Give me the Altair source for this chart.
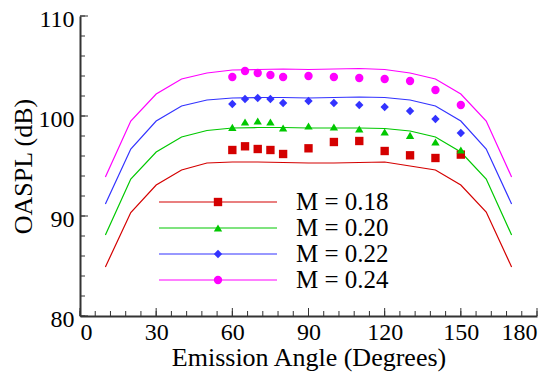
import altair as alt
import pandas as pd

# ---------------- data ----------------
series_labels = ["M = 0.18", "M = 0.20", "M = 0.22", "M = 0.24"]
series_colors = ["#d40000", "#00c800", "#3333ff", "#ff00ff"]
series_shapes = ["square", "triangle-up", "diamond", "circle"]

line_angles = [10, 20, 30, 40, 50, 60, 70, 80, 90, 100, 110, 120, 130, 140, 150, 160, 170]
line_m018 = [84.9, 90.35, 93.1, 94.6, 95.3, 95.4, 95.4, 95.35, 95.3, 95.3, 95.35, 95.4, 95.0, 94.6, 93.1, 90.4, 84.9]
line_m020 = [88.1, 93.7, 96.4, 97.9, 98.55, 98.8, 98.85, 98.85, 98.8, 98.8, 98.8, 98.75, 98.5, 97.9, 96.4, 93.7, 88.1]
line_m022 = [91.2, 96.7, 99.5, 101.0, 101.6, 101.8, 101.85, 101.85, 101.8, 101.85, 101.9, 101.85, 101.6, 101.0, 99.5, 96.7, 91.2]
line_m024 = [93.9, 99.5, 102.2, 103.7, 104.3, 104.6, 104.65, 104.7, 104.65, 104.7, 104.75, 104.65, 104.3, 103.7, 102.2, 99.5, 93.9]

pt_angles = [60, 65, 70, 75, 80, 90, 100, 110, 120, 130, 140, 150]
pt_m018 = [96.6, 96.97, 96.7, 96.6, 96.2, 96.77, 97.4, 97.5, 96.5, 96.07, 95.8, 96.14]
pt_m020 = [98.87, 99.4, 99.5, 99.4, 98.8, 99.0, 98.9, 98.7, 98.4, 98.07, 97.4, 96.6]
pt_m022 = [101.2, 101.7, 101.8, 101.7, 101.3, 101.5, 101.3, 101.1, 100.9, 100.5, 99.7, 98.3]
pt_m024 = [103.9, 104.5, 104.3, 104.1, 103.9, 104.0, 103.9, 103.8, 103.7, 103.5, 102.6, 101.1]

x_major = [0, 30, 60, 90, 120, 150, 180]
x_minor = [a for a in range(0, 181, 6)]
y_major = [80, 90, 100, 110]
y_minor = [v for v in range(80, 111, 2)]

# ---------------- tables ----------------
line_rows = []
for lab, vals in zip(series_labels, [line_m018, line_m020, line_m022, line_m024]):
    for a, v in zip(line_angles, vals):
        line_rows.append({"M": lab, "angle": a, "oaspl": v})
line_df = pd.DataFrame(line_rows)

pt_rows = []
for lab, vals in zip(series_labels, [pt_m018, pt_m020, pt_m022, pt_m024]):
    for a, v in zip(pt_angles, vals):
        pt_rows.append({"M": lab, "angle": a, "oaspl": v})
pt_df = pd.DataFrame(pt_rows)

W, H = 457, 300
FONT = "Liberation Serif, Times New Roman, serif"

# legend layout (pixel positions inside the plot area)
leg_y0, leg_dy = 186, 26
leg_df = pd.DataFrame({
    "M": series_labels,
    "ly": [leg_y0 + i * leg_dy for i in range(len(series_labels))],
})

color_scale = alt.Scale(domain=series_labels, range=series_colors)
shape_scale = alt.Scale(domain=series_labels, range=series_shapes)

axis_style = dict(
    ticks=False, grid=False,
    domainColor="#333", domainWidth=2,
    labelFont=FONT, labelFontSize=24, labelColor="black",
    titleFont=FONT, titleFontSize=26, titleColor="black", titleFontWeight="normal",
)

x_enc = alt.X("angle:Q", scale=alt.Scale(domain=[0, 180], nice=False),
              axis=alt.Axis(values=x_major, title="Emission Angle (Degrees)",
                            labelPadding=4, titlePadding=0, **axis_style))
y_enc = alt.Y("oaspl:Q", scale=alt.Scale(domain=[80, 110], nice=False, zero=False),
              axis=alt.Axis(values=y_major, title="OASPL (dB)", labelOffset=3,
                            labelPadding=6, titlePadding=2, **axis_style))

lines = alt.Chart(line_df).mark_line(strokeWidth=1.2).encode(
    x=x_enc, y=y_enc,
    color=alt.Color("M:N", scale=color_scale, legend=None),
    detail="M:N",
)

points = alt.Chart(pt_df).mark_point(filled=True, opacity=1, size=70).encode(
    x="angle:Q", y="oaspl:Q",
    color=alt.Color("M:N", scale=color_scale, legend=None),
    shape=alt.Shape("M:N", scale=shape_scale, legend=None),
)

# inward ticks
xmaj = alt.Chart(pd.DataFrame({"angle": x_major})).mark_rule(color="#333", strokeWidth=1).encode(
    x="angle:Q", y=alt.value(H), y2=alt.value(H - 8))
xmin = alt.Chart(pd.DataFrame({"angle": x_minor})).mark_rule(color="#333", strokeWidth=1).encode(
    x="angle:Q", y=alt.value(H), y2=alt.value(H - 5))
ymaj = alt.Chart(pd.DataFrame({"oaspl": y_major})).mark_rule(color="#333", strokeWidth=1).encode(
    y="oaspl:Q", x=alt.value(0), x2=alt.value(8))
ymin = alt.Chart(pd.DataFrame({"oaspl": y_minor})).mark_rule(color="#333", strokeWidth=1).encode(
    y="oaspl:Q", x=alt.value(0), x2=alt.value(5))

# legend
leg_lines = alt.Chart(leg_df).mark_rule(strokeWidth=1.2).encode(
    x=alt.value(79), x2=alt.value(197),
    y=alt.Y("ly:Q", scale=None),
    color=alt.Color("M:N", scale=color_scale, legend=None),
)
leg_pts = alt.Chart(leg_df).mark_point(filled=True, opacity=1, size=70).encode(
    x=alt.value(138),
    y=alt.Y("ly:Q", scale=None),
    color=alt.Color("M:N", scale=color_scale, legend=None),
    shape=alt.Shape("M:N", scale=shape_scale, legend=None),
)
leg_txt = alt.Chart(leg_df).mark_text(align="left", baseline="middle", font=FONT,
                                      fontSize=25, color="black").encode(
    x=alt.value(216),
    y=alt.Y("ly:Q", scale=None),
    text="M:N",
)

chart = alt.layer(
    xmin, xmaj, ymin, ymaj, lines, points, leg_lines, leg_pts, leg_txt
).properties(
    width=W, height=H,
    background="white",
    autosize=alt.AutoSizeParams(type="none"),
    padding={"left": 72, "top": 8, "right": 15, "bottom": 57},
).configure_view(strokeWidth=0)

chart.save("out.html", embed_options={"renderer": "svg", "actions": False})
